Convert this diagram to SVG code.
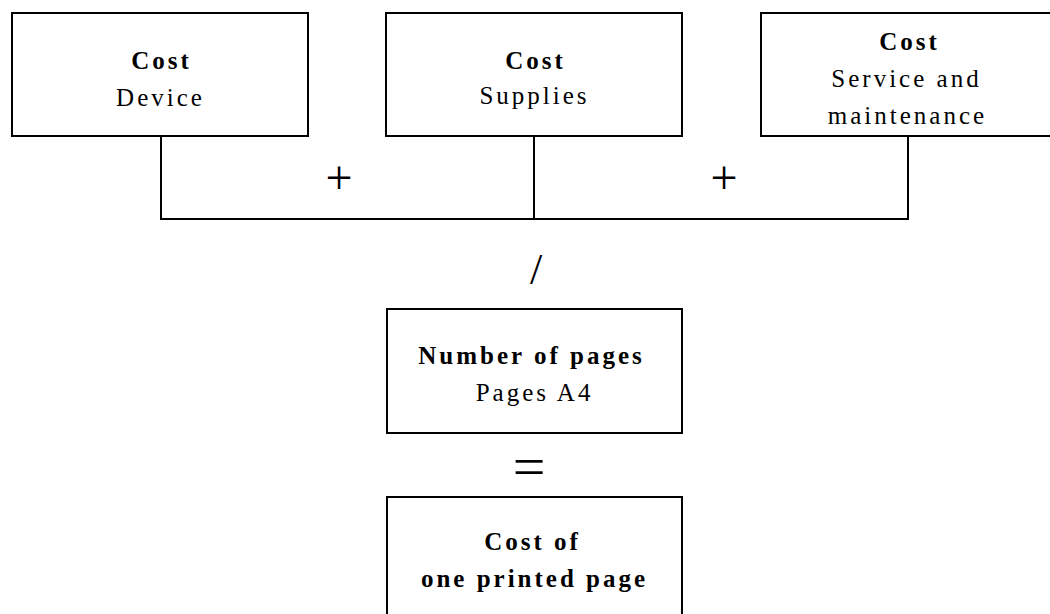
<svg xmlns="http://www.w3.org/2000/svg" width="1050" height="614" viewBox="0 0 1050 614">
<style>
.box{fill:#fff;stroke:#000;stroke-width:2}
.t{font-family:"Liberation Serif","Times New Roman",serif;font-size:25px;letter-spacing:3px;text-anchor:middle;fill:#000}
.b{font-weight:bold}
.op{font-family:"Liberation Serif","Times New Roman",serif;text-anchor:middle;fill:#000}
.ln{fill:none;stroke:#000;stroke-width:2}
</style>
<rect width="1050" height="614" fill="#fff"/>
<g id="connectors">
<path class="ln" d="M161,136 V219 M534,136 V219 M908,136 V219 M160,219 H909"/>
<text class="op" x="339" y="194" font-size="48">+</text>
<text class="op" x="724" y="194" font-size="48">+</text>
<text class="op" x="536" y="284" font-size="44">/</text>
<text class="op" x="529" y="486" font-size="58">=</text>
</g>
<g id="cost-device">
<rect class="box" x="12" y="13" width="296" height="123"/>
<text class="t b" x="161.5" y="69">Cost</text>
<text class="t" x="160.5" y="106">Device</text>
</g>
<g id="cost-supplies">
<rect class="box" x="386" y="13" width="296" height="123"/>
<text class="t b" x="535.5" y="69">Cost</text>
<text class="t" x="534.5" y="104">Supplies</text>
</g>
<g id="cost-service">
<rect class="box" x="761" y="13" width="291" height="123"/>
<text class="t b" x="909.5" y="50">Cost</text>
<text class="t" x="906.5" y="87">Service and</text>
<text class="t" x="907.5" y="124">maintenance</text>
</g>
<g id="number-of-pages">
<rect class="box" x="387" y="309" width="295" height="124"/>
<text class="t b" x="531.5" y="364">Number of pages</text>
<text class="t" x="534.5" y="401">Pages A4</text>
</g>
<g id="cost-per-page">
<rect class="box" x="387" y="497" width="295" height="125"/>
<text class="t b" x="532.5" y="550">Cost of</text>
<text class="t b" x="534.5" y="587">one printed page</text>
</g>
</svg>
